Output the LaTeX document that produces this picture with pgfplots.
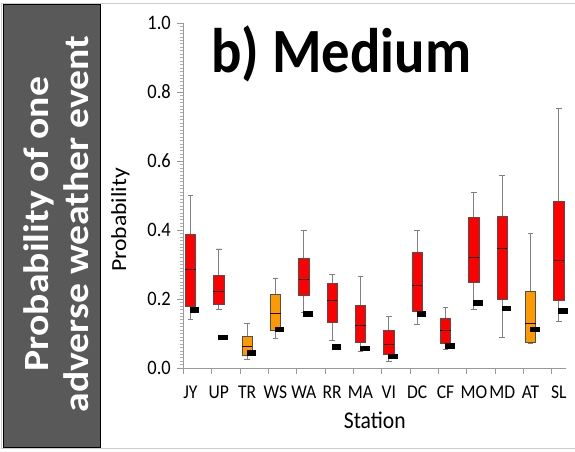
\documentclass[border=0pt]{standalone}
\usepackage{fontspec}
\setmainfont{Carlito}
\newfontfamily\vfont{Carlito}[FakeStretch=0.9]
\newfontfamily\rfont{Carlito}[FakeStretch=1.1]
\newfontfamily\sidefont{Carlito}[FakeStretch=1.12]
\usepackage{pgfplots}
\usepackage{pgfplotstable}
\usepgfplotslibrary{statistics}
\pgfplotsset{compat=1.18}
\definecolor{bred}{HTML}{FF0000}
\definecolor{borange}{HTML}{FF9900}
\definecolor{sidegray}{HTML}{595959}
\definecolor{axgray}{HTML}{999999}
\definecolor{whgray}{HTML}{808080}
\definecolor{boxedge}{HTML}{505050}

% black markers (one per station)
\pgfplotstableread{
mx mk
0.14 0.170
1.14 0.089
2.14 0.044
3.14 0.113
4.14 0.157
5.14 0.062
6.14 0.058
7.14 0.034
8.14 0.157
9.14 0.065
10.14 0.190
11.14 0.173
12.14 0.113
13.14 0.166
}\markdata

\begin{document}
\begin{tikzpicture}[x=1pt,y=1pt]
\useasboundingbox (0,0) rectangle (575,451);
\draw[gray!40, line width=0.8pt] (1,3) rectangle (590,448);
\fill[sidegray] (3,4) rectangle (100,446);
\draw[black, line width=1pt] (3,4) rectangle (100,446);
\node[rotate=90, anchor=base, inner sep=0pt, text=white,
      font=\sidefont\bfseries\fontsize{35.4}{40}\selectfont] at (48,227) {Probability of one};
\node[rotate=90, anchor=base, inner sep=0pt, text=white,
      font=\sidefont\bfseries\fontsize{35.4}{40}\selectfont] at (88,227) {adverse weather event};

\begin{axis}[
  at={(183.3pt,83pt)}, anchor=south west,
  scale only axis, width=382.9pt, height=345pt,
  xmin=-0.25, xmax=13.26, ymin=0, ymax=1,
  axis x line=bottom, axis y line=left,
  axis line style={draw=axgray, line width=0.8pt, -},
  clip=false,
  tick align=outside,
  major tick length=6pt, minor tick length=3.5pt,
  major tick style={draw=axgray, line width=0.6pt},
  minor tick style={draw=axgray!80, line width=0.5pt},
  xtick={-0.25,0.75,1.75,2.75,3.75,4.75,5.75,6.75,7.75,8.75,9.75,10.75,11.75,12.75},
  xticklabels={JY,UP,TR,WS,WA,RR,MA,VI,DC,CF,MO,MD,AT,SL},
  xticklabel style={xshift=7.1pt, yshift=-8pt, font=\vfont\fontsize{19.5}{19.5}\selectfont},
  ytick={0,0.2,0.4,0.6,0.8,1.0},
  yminorticks=true,
  minor ytick={0.01,0.02,...,0.995},
  yticklabel style={xshift=-3pt, font=\vfont\fontsize{20.5}{20.5}\selectfont,
     /pgf/number format/assume math mode=true,
     /pgf/number format/fixed, /pgf/number format/fixed zerofill,
     /pgf/number format/precision=1},
  xlabel={Station},
  xlabel style={at={(axis description cs:0.5,-0.174)}, anchor=base,
     font=\vfont\fontsize{24}{24}\selectfont},
  ylabel={Probability},
  ylabel style={at={(axis description cs:-0.164,0.429)}, anchor=center,
     font=\rfont\fontsize{21.5}{22}\selectfont},
  boxplot/draw direction=y,
  boxplot/box extend=0.37,
  boxplot/whisker extend=0.2,
  boxplot/every whisker/.style={draw=whgray, line width=0.8pt},
  boxplot/every median/.style={draw=black!85!red, line width=1pt},
  redbox/.style={mark=none, draw=boxedge, fill=bred, line width=0.5pt},
  orgbox/.style={mark=none, draw=boxedge, fill=borange, line width=0.5pt},
]
% JY
\addplot[redbox, boxplot prepared={draw position=0, lower whisker=0.142, lower quartile=0.178, median=0.285, upper quartile=0.387, upper whisker=0.501}] coordinates {};
% UP
\addplot[redbox, boxplot prepared={draw position=1, lower whisker=0.169, lower quartile=0.184, median=0.223, upper quartile=0.268, upper whisker=0.345}] coordinates {};
% TR
\addplot[orgbox, boxplot prepared={draw position=2, lower whisker=0.025, lower quartile=0.038, median=0.062, upper quartile=0.093, upper whisker=0.128}] coordinates {};
% WS
\addplot[orgbox, boxplot prepared={draw position=3, lower whisker=0.085, lower quartile=0.110, median=0.157, upper quartile=0.213, upper whisker=0.261}] coordinates {};
% WA
\addplot[redbox, boxplot prepared={draw position=4, lower whisker=0.162, lower quartile=0.212, median=0.256, upper quartile=0.319, upper whisker=0.400}] coordinates {};
% RR
\addplot[redbox, boxplot prepared={draw position=5, lower whisker=0.081, lower quartile=0.132, median=0.195, upper quartile=0.245, upper whisker=0.271}] coordinates {};
% MA
\addplot[redbox, boxplot prepared={draw position=6, lower whisker=0.047, lower quartile=0.075, median=0.123, upper quartile=0.182, upper whisker=0.265}] coordinates {};
% VI
\addplot[redbox, boxplot prepared={draw position=7, lower whisker=0.020, lower quartile=0.039, median=0.067, upper quartile=0.108, upper whisker=0.149}] coordinates {};
% DC
\addplot[redbox, boxplot prepared={draw position=8, lower whisker=0.125, lower quartile=0.164, median=0.239, upper quartile=0.335, upper whisker=0.400}] coordinates {};
% CF
\addplot[redbox, boxplot prepared={draw position=9, lower whisker=0.054, lower quartile=0.073, median=0.110, upper quartile=0.145, upper whisker=0.176}] coordinates {};
% MO
\addplot[redbox, boxplot prepared={draw position=10, lower whisker=0.169, lower quartile=0.248, median=0.320, upper quartile=0.436, upper whisker=0.508}] coordinates {};
% MD
\addplot[redbox, boxplot prepared={draw position=11, lower whisker=0.088, lower quartile=0.198, median=0.347, upper quartile=0.441, upper whisker=0.559}] coordinates {};
% AT
\addplot[orgbox, boxplot prepared={draw position=12, lower whisker=0.072, lower quartile=0.076, median=0.128, upper quartile=0.223, upper whisker=0.389}] coordinates {};
% SL
\addplot[redbox, boxplot prepared={draw position=13, lower whisker=0.136, lower quartile=0.196, median=0.311, upper quartile=0.484, upper whisker=0.753}] coordinates {};
% markers
\addplot[only marks, mark=square*, mark size=2.3pt,
  mark options={xscale=1.85, fill=black, draw=black, line width=0.3pt}]
  table[x=mx, y=mk] {\markdata};
\end{axis}
\node[anchor=base west, inner sep=0pt, font=\vfont\bfseries\fontsize{63}{63}\selectfont]
  at (211,378) {b) Medium};
\end{tikzpicture}
\end{document}
